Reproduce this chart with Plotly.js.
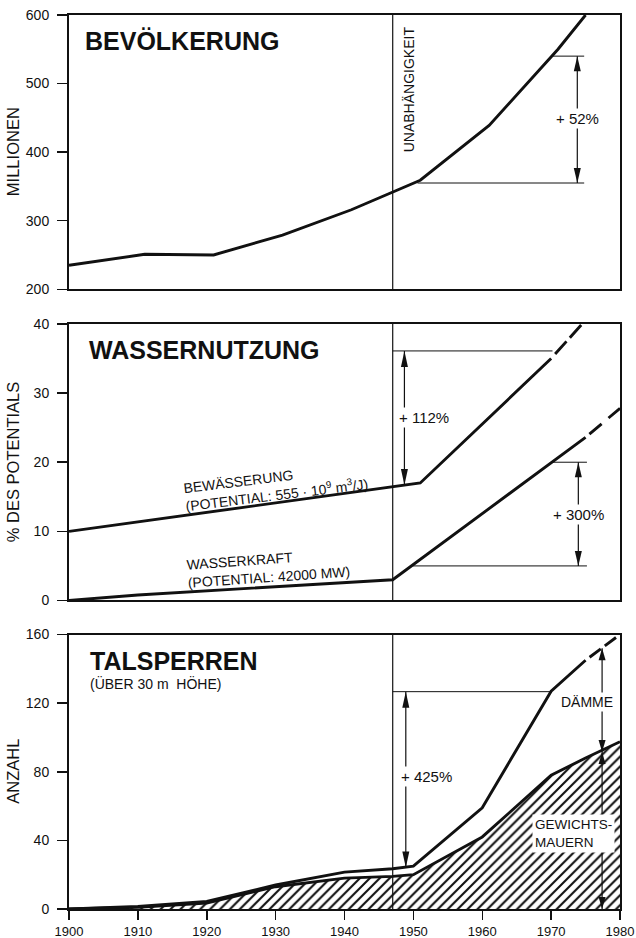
<!DOCTYPE html>
<html><head><meta charset="utf-8">
<script src="https://cdn.plot.ly/plotly-3.0.1.min.js"></script>
<style>body{margin:0;background:#fff}#chart{width:636px;height:938px}</style>
</head><body><div id="chart"></div>
<script>
// ---------- DATA ----------
const xTicks = [1900, 1910, 1920, 1930, 1940, 1950, 1960, 1970, 1980];
const popTicks = [200, 300, 400, 500, 600];
const useTicks = [0, 10, 20, 30, 40];
const damTicks = [0, 40, 80, 120, 160];

// Bevölkerung (Millionen)
const popYears  = [1900, 1911, 1921, 1931, 1941, 1951, 1961, 1971, 1975];
const popValues = [235, 251, 250, 279, 316, 359, 439, 550, 600];

// Wassernutzung (% des Potentials)
const irrYears      = [1900, 1947, 1951, 1970];
const irrValues     = [10, 16.5, 17, 35];
const irrDashYears  = [1970, 1974.5];
const irrDashValues = [35, 40];
const hydroYears      = [1900, 1910, 1947, 1975];
const hydroValues     = [0, 0.8, 3, 23.6];
const hydroDashYears  = [1975, 1980];
const hydroDashValues = [23.6, 27.8];

// Talsperren (Anzahl)
const damYears      = [1900, 1910, 1920, 1930, 1940, 1947, 1950, 1960, 1970, 1975];
const damValues     = [0, 1.5, 4.4, 14, 21.5, 23.5, 25, 59, 127, 145];
const damDashYears  = [1975, 1980];
const damDashValues = [145, 160];
const gravYears  = [1900, 1910, 1920, 1930, 1940, 1947, 1950, 1960, 1970, 1975, 1980];
const gravValues = [0, 1, 3.5, 13, 18, 19, 20, 42, 78, 88, 97.5];

// Bracket values
const independenceYear = 1947;
const popBracket   = {x: 1973.8, lo: 355, hi: 540, loFrom: 1950.6, hiFrom: 1970.1, to: 1974.8, label: '+ 52%', labelY: 449};
const irrBracket   = {x: 1948.7, lo: 16.7, hi: 36.1, hiFrom: 1947, to: 1970.2, label: '+ 112%', labelX: 1951.6, labelY: 26.5};
const hydroBracket = {x: 1973.95, lo: 5, hi: 20, loFrom: 1949.9, hiFrom: 1970.1, to: 1975.2, label: '+ 300%', labelY: 12.5};
const damBracket   = {x: 1948.9, lo: 24.2, hi: 126.7, hiFrom: 1947, to: 1970.1, label: '+ 425%', labelX: 1951.9, labelY: 77.2};
const splitArrow   = {x: 1977.4, bottom: 0, mid: 91.5, top: 152};

// ---------- STYLE ----------
const INK = '#111';
const FONT = 'Liberation Sans, Arial, Helvetica, sans-serif';
const LW = 2.9;

function line(x, y, xa, ya, dash, extra) {
  return Object.assign({x: x, y: y, xaxis: xa, yaxis: ya, mode: 'lines', type: 'scatter',
    line: {color: INK, width: LW, dash: dash || 'solid'}, hoverinfo: 'skip', showlegend: false}, extra || {});
}

const traces = [
  line(popYears, popValues, 'x', 'y'),
  line(irrYears, irrValues, 'x2', 'y2'),
  line(irrDashYears, irrDashValues, 'x2', 'y2', '0px,6px,17px,5px,17px,5px,17px,5px'),
  line(hydroYears, hydroValues, 'x2', 'y2'),
  line(hydroDashYears, hydroDashValues, 'x2', 'y2', '0px,5px,16px,9px,16px,9px,16px'),
  line(gravYears, gravValues, 'x3', 'y3', null, {fill: 'tozeroy', fillcolor: 'rgba(0,0,0,0)',
     fillpattern: {shape: '/', size: 7, solidity: 0.3, fgcolor: INK, bgcolor: 'rgba(255,255,255,0)'}}),
  line(damYears, damValues, 'x3', 'y3'),
  line(damDashYears, damDashValues, 'x3', 'y3', '0px,5px,14px,5px,14px,5px,14px')
];

const shapes = [];
function seg(xr, yr, x0, y0, x1, y1, w) {
  shapes.push({type: 'line', xref: xr, yref: yr, x0: x0, y0: y0, x1: x1, y1: y1,
    line: {color: INK, width: w || 1}});
}
function head(xr, yr, x, y, dir, len, w) {
  len = len || 14; w = w || 3.5;
  const s = dir === 'up' ? -1 : 1;
  shapes.push({type: 'path', xref: xr, yref: yr, xsizemode: 'pixel', ysizemode: 'pixel',
    xanchor: x, yanchor: y, path: `M0,0 L${-w},${s * len} L${w},${s * len} Z`,
    fillcolor: INK, line: {width: 0}});
}
function arrow(xr, yr, x, lo, hi, len) {
  seg(xr, yr, x, lo, x, hi, 1.2);
  head(xr, yr, x, hi, 'up', len);
  head(xr, yr, x, lo, 'down', len);
}

// independence lines
[['x', 'y domain'], ['x2', 'y2 domain'], ['x3', 'y3 domain']].forEach(r => {
  shapes.push({type: 'line', xref: r[0], yref: r[1], x0: independenceYear, x1: independenceYear, y0: 0, y1: 1,
    line: {color: INK, width: 1.2}});
});

// Bevölkerung bracket
seg('x', 'y', popBracket.loFrom, popBracket.lo, popBracket.to, popBracket.lo);
seg('x', 'y', popBracket.hiFrom, popBracket.hi, popBracket.to, popBracket.hi);
arrow('x', 'y', popBracket.x, popBracket.lo, popBracket.hi, 15);
// Bewässerung bracket
seg('x2', 'y2', irrBracket.hiFrom, irrBracket.hi, irrBracket.to, irrBracket.hi);
arrow('x2', 'y2', irrBracket.x, irrBracket.lo, irrBracket.hi, 16);
// Wasserkraft bracket
seg('x2', 'y2', hydroBracket.loFrom, hydroBracket.lo, hydroBracket.to, hydroBracket.lo);
seg('x2', 'y2', hydroBracket.hiFrom, hydroBracket.hi, hydroBracket.to, hydroBracket.hi);
arrow('x2', 'y2', hydroBracket.x, hydroBracket.lo, hydroBracket.hi, 15);
// Talsperren bracket
seg('x3', 'y3', damBracket.hiFrom, damBracket.hi, damBracket.to, damBracket.hi);
arrow('x3', 'y3', damBracket.x, damBracket.lo, damBracket.hi, 16);
// Dämme / Gewichtsmauern split arrow
arrow('x3', 'y3', splitArrow.x, splitArrow.mid, splitArrow.top, 12);
arrow('x3', 'y3', splitArrow.x, splitArrow.bottom, splitArrow.mid, 12);

// ---------- ANNOTATIONS ----------
const ann = [];
function txt(xr, yr, x, y, text, o) {
  ann.push(Object.assign({xref: xr, yref: yr, x: x, y: y, text: text, showarrow: false,
    xanchor: 'center', yanchor: 'middle', font: {family: FONT, size: 14, color: INK}}, o || {}));
}
const titleFont = {family: FONT, size: 25, color: INK, weight: 700};
txt('x', 'y', 1902.0, 562, 'BEVÖLKERUNG', {xanchor: 'left', font: titleFont});
txt('x2', 'y2', 1902.6, 36.2, 'WASSERNUTZUNG', {xanchor: 'left', font: titleFont});
txt('x3', 'y3', 1902.8, 144.4, 'TALSPERREN', {xanchor: 'left', font: titleFont});
txt('x3', 'y3', 1902.8, 131.2, '(ÜBER 30 m  HÖHE)', {xanchor: 'left'});

txt('x', 'y', 1949.4, 492, 'UNABHÄNGIGKEIT', {textangle: -90});

const pctOpts = {bgcolor: '#fff', borderpad: 1, font: {family: FONT, size: 15, color: INK}};
txt('x', 'y', popBracket.x, popBracket.labelY, popBracket.label, pctOpts);
txt('x2', 'y2', irrBracket.labelX, irrBracket.labelY, irrBracket.label, pctOpts);
txt('x2', 'y2', hydroBracket.x, hydroBracket.labelY, hydroBracket.label, pctOpts);
txt('x3', 'y3', damBracket.labelX, damBracket.labelY, damBracket.label, pctOpts);

txt('x2', 'y2', 1930, 16.5, 'BEWÄSSERUNG<br>(POTENTIAL: 555 · 10<sup>9</sup> m<sup>3</sup>/J)', {align: 'left', textangle: -7});
txt('x2', 'y2', 1928.9, 4.7, 'WASSERKRAFT<br>(POTENTIAL: 42000 MW)', {align: 'left', textangle: -4});

txt('x3', 'y3', 1975.2, 120.9, 'DÄMME', {bgcolor: '#fff', borderpad: 1});
txt('x3', 'y3', 1973.2, 43.8, 'GEWICHTS-<br>MAUERN', {align: 'left', bgcolor: '#fff', borderpad: 2,
  font: {family: FONT, size: 13.5, color: INK}});

// y-axis titles
const yTitleX = (13 - 69) / 551;
[['y domain', 'MILLIONEN'], ['y2 domain', '% DES POTENTIALS'], ['y3 domain', 'ANZAHL']].forEach(a => {
  txt('paper', a[0], yTitleX, 0.5, a[1], {textangle: -90, font: {family: FONT, size: 16.5, color: INK}});
});

// ---------- LAYOUT ----------
const base = {showgrid: false, zeroline: false, showline: true, mirror: true, linecolor: INK, linewidth: 2,
  tickfont: {family: FONT, size: 14, color: INK}, tickcolor: INK, tickwidth: 1.5};
function xa(anchor, show) {
  return Object.assign({}, base, {range: [1900, 1980], anchor: anchor, domain: [0, 1],
    tickvals: xTicks, ticktext: xTicks.map(String), ticks: show ? 'outside' : '', showticklabels: show,
    ticklen: 9, tickfont: {family: FONT, size: 13, color: INK}, ticklabelstandoff: 0, fixedrange: true});
}
function ya(anchor, domain, range, ticks) {
  return Object.assign({}, base, {anchor: anchor, domain: domain, range: range, tickvals: ticks,
    ticktext: ticks.map(String), ticks: 'outside', ticklen: 10, ticklabelstandoff: 5, fixedrange: true});
}
const layout = {
  width: 636, height: 938,
  margin: {l: 69, r: 16, t: 15, b: 29},
  paper_bgcolor: '#fff', plot_bgcolor: '#fff',
  showlegend: false,
  font: {family: FONT, color: INK},
  xaxis: xa('y', false),
  xaxis2: xa('y2', false),
  xaxis3: xa('y3', true),
  yaxis: ya('x', [0.6932, 1], [200, 600], popTicks),
  yaxis2: ya('x2', [0.3451, 0.6544], [0, 40], useTicks),
  yaxis3: ya('x3', [0, 0.3070], [0, 160], damTicks),
  shapes: shapes,
  annotations: ann
};
Plotly.newPlot('chart', traces, layout, {displayModeBar: false, staticPlot: true});
</script>
</body></html>
